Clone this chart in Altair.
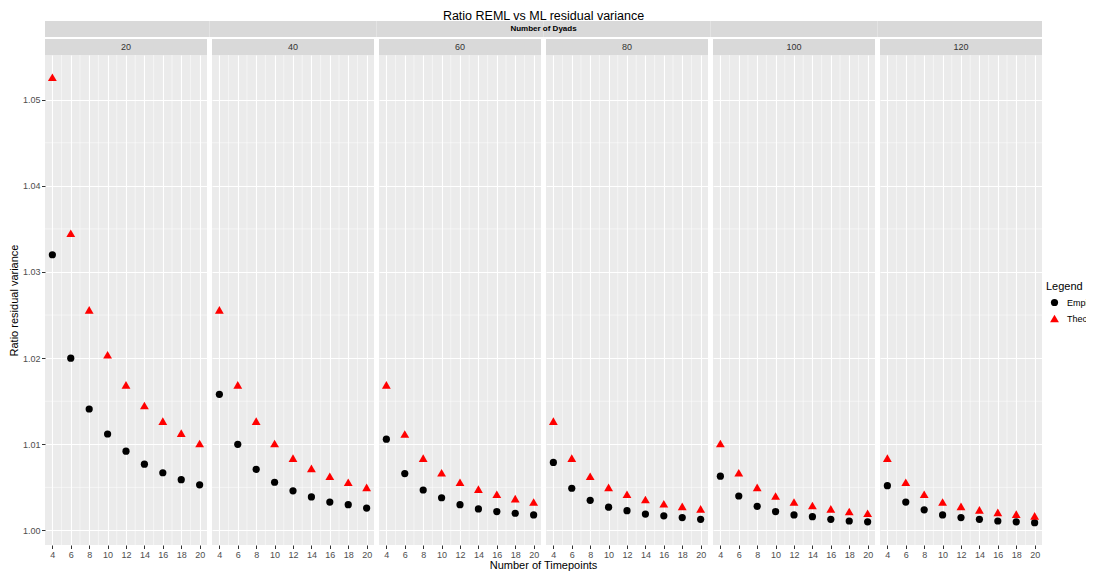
import altair as alt
import pandas as pd

# ---------------- data ----------------
dyads = [20, 40, 60, 80, 100, 120]
timepoints = [4, 6, 8, 10, 12, 14, 16, 18, 20]

emp_20 = [1.0320, 1.0200, 1.0141, 1.0112, 1.0092, 1.0077, 1.0067, 1.0059, 1.0053]
emp_40 = [1.0158, 1.0100, 1.0071, 1.0056, 1.0046, 1.0039, 1.0033, 1.0030, 1.0026]
emp_60 = [1.0106, 1.0066, 1.0047, 1.0038, 1.0030, 1.0025, 1.0022, 1.0020, 1.0018]
emp_80 = [1.0079, 1.0049, 1.0035, 1.0027, 1.0023, 1.0019, 1.0017, 1.0015, 1.0013]
emp_100 = [1.0063, 1.0040, 1.0028, 1.0022, 1.0018, 1.0016, 1.0013, 1.0011, 1.0010]
emp_120 = [1.0052, 1.0033, 1.0024, 1.0018, 1.0015, 1.0013, 1.0011, 1.0010, 1.0009]

theo_20 = [1.0526, 1.0345, 1.0256, 1.0204, 1.0169, 1.0145, 1.0127, 1.0113, 1.0101]
theo_40 = [1.0256, 1.0169, 1.0127, 1.0101, 1.0084, 1.0072, 1.0063, 1.0056, 1.0050]
theo_60 = [1.0169, 1.0112, 1.0084, 1.0067, 1.0056, 1.0048, 1.0042, 1.0037, 1.0033]
theo_80 = [1.0127, 1.0084, 1.0063, 1.0050, 1.0042, 1.0036, 1.0031, 1.0028, 1.0025]
theo_100 = [1.0101, 1.0067, 1.0050, 1.0040, 1.0033, 1.0029, 1.0025, 1.0022, 1.0020]
theo_120 = [1.0084, 1.0056, 1.0042, 1.0033, 1.0028, 1.0024, 1.0021, 1.0019, 1.0017]

y_breaks = [1.00, 1.01, 1.02, 1.03, 1.04, 1.05]
y_minor = [1.005, 1.015, 1.025, 1.035, 1.045]
x_minor = [5, 7, 9, 11, 13, 15, 17, 19]
types = ["Empirical", "Theoretical"]

title_text = "Ratio REML vs ML residual variance"
x_title = "Number of Timepoints"
y_title = "Ratio residual variance"
strip_title = "Number of Dyads"

emp = {20: emp_20, 40: emp_40, 60: emp_60, 80: emp_80, 100: emp_100, 120: emp_120}
theo = {20: theo_20, 40: theo_40, 60: theo_60, 80: theo_80, 100: theo_100, 120: theo_120}

rows = []
for n in dyads:
    for t, e, th in zip(timepoints, emp[n], theo[n]):
        rows.append({"Dyads": n, "Timepoints": t, "Ratio": e, "Type": "Empirical"})
        rows.append({"Dyads": n, "Timepoints": t, "Ratio": th, "Type": "Theoretical"})
df = pd.DataFrame(rows)

# ggplot-like 5% expansion of the continuous scales
ymin, ymax = df["Ratio"].min(), df["Ratio"].max()
ypad = (ymax - ymin) * 0.05
ydom = [ymin - ypad, ymax + ypad]
xpad = (max(timepoints) - min(timepoints)) * 0.05
xdom = [min(timepoints) - xpad, max(timepoints) + xpad]

FONT = "Liberation Sans"
W, H = 162, 490
GAP = 5
STRIP = "#D9D9D9"
SVG_W, SVG_H = 1078, 564
PAD_L, PAD_T = 37, 47
NP = len(dyads)

xscale = alt.Scale(domain=xdom, nice=False, zero=False)
yscale = alt.Scale(domain=ydom, nice=False, zero=False)

color_scale = alt.Scale(domain=types, range=["#000000", "#FF0000"])
shape_scale = alt.Scale(domain=types, range=["circle", "triangle-up"])
size_scale = alt.Scale(domain=types, range=[52, 78])
leg = alt.Legend(title="Legend")

xminor_df = pd.DataFrame({"x": x_minor})
yminor_df = pd.DataFrame({"y": y_minor})


def panel(i, n):
    first = i == 0
    sub = df[df["Dyads"] == n]
    yax = dict(values=y_breaks, format=".2f", grid=True, labels=first, ticks=first)
    yax["title"] = y_title if first else None
    xax = dict(values=timepoints, grid=True, title=None, labelOverlap=False, labelFlush=False)
    pts = alt.Chart(sub).mark_point(filled=True, opacity=1).encode(
        x=alt.X("Timepoints:Q", scale=xscale, axis=alt.Axis(**xax)),
        y=alt.Y("Ratio:Q", scale=yscale, axis=alt.Axis(**yax)),
        color=alt.Color("Type:N", scale=color_scale, legend=leg),
        shape=alt.Shape("Type:N", scale=shape_scale, legend=leg),
        size=alt.Size("Type:N", scale=size_scale, legend=leg),
    )
    xm = alt.Chart(xminor_df).mark_rule(color="white", strokeWidth=0.5).encode(
        x=alt.X("x:Q", scale=xscale, axis=None))
    ym = alt.Chart(yminor_df).mark_rule(color="white", strokeWidth=0.5).encode(
        y=alt.Y("y:Q", scale=yscale, axis=None))
    lab = alt.Chart(pd.DataFrame({"label": [str(n)], "outer": [strip_title],
                                  "title": [title_text], "xt": [x_title]}))
    strip = lab.mark_rect(color=STRIP, clip=False).encode(
        x=alt.value(0), x2=alt.value(W), y=alt.value(-16), y2=alt.value(0))
    strip_txt = lab.mark_text(font=FONT, fontSize=9, color="#333333", baseline="middle").encode(
        text="label:N", x=alt.value(W / 2), y=alt.value(-8))
    x0 = 0 if i == 0 else -GAP / 2
    x1 = W if i == NP - 1 else W + GAP / 2
    outer = lab.mark_rect(color=STRIP, clip=False).encode(
        x=alt.value(x0), x2=alt.value(x1), y=alt.value(-34), y2=alt.value(-18))
    layers = [xm, ym, pts, strip, strip_txt, outer]
    if i == NP - 1:
        # centre of the whole panel row, relative to this (last) panel
        cx = (NP * W + (NP - 1) * GAP) / 2 - i * (W + GAP)
        layers.append(lab.mark_text(font=FONT, fontSize=8, fontWeight="bold", color="#000000",
                                    baseline="middle").encode(
            text="outer:N", x=alt.value(cx), y=alt.value(-26)))
        layers.append(lab.mark_text(font=FONT, fontSize=12.5, color="#000000",
                                    baseline="alphabetic").encode(
            text="title:N", x=alt.value(cx), y=alt.value(-35.5)))
        layers.append(lab.mark_text(font=FONT, fontSize=11, color="#000000",
                                    baseline="alphabetic").encode(
            text="xt:N", x=alt.value(cx), y=alt.value(H + 24)))
    return alt.layer(*layers).resolve_axis(x="independent", y="independent").properties(
        width=W, height=H)


panels = [panel(i, n) for i, n in enumerate(dyads)]

chart = alt.hconcat(*panels, spacing=GAP, bounds="flush").properties(
    autosize=alt.AutoSizeParams(type="none"),
    padding={"left": PAD_L, "top": PAD_T, "right": SVG_W - PAD_L, "bottom": SVG_H - PAD_T},
).configure_view(fill="#EBEBEB", stroke=None).configure_axis(
    gridColor="#FFFFFF", gridWidth=1.1, domain=False, tickColor="#333333", tickSize=3.5,
    labelColor="#4D4D4D", labelFont=FONT, labelFontSize=9, labelPadding=1.5,
    titleFont=FONT, titleFontSize=11, titleFontWeight="normal", titleColor="#000000",
    labelOverlap=False, labelFlush=False,
).configure_axisY(titlePadding=3).configure_legend(
    orient="none", legendX=1001, legendY=226, titleFont=FONT, titleFontSize=11,
    titleFontWeight="normal", titleColor="#000000", labelFont=FONT, labelFontSize=9,
    labelColor="#000000", rowPadding=5, symbolOffset=3, labelOffset=7, titlePadding=6,
)

chart.save("out.html", embed_options={"renderer": "svg", "actions": False})
